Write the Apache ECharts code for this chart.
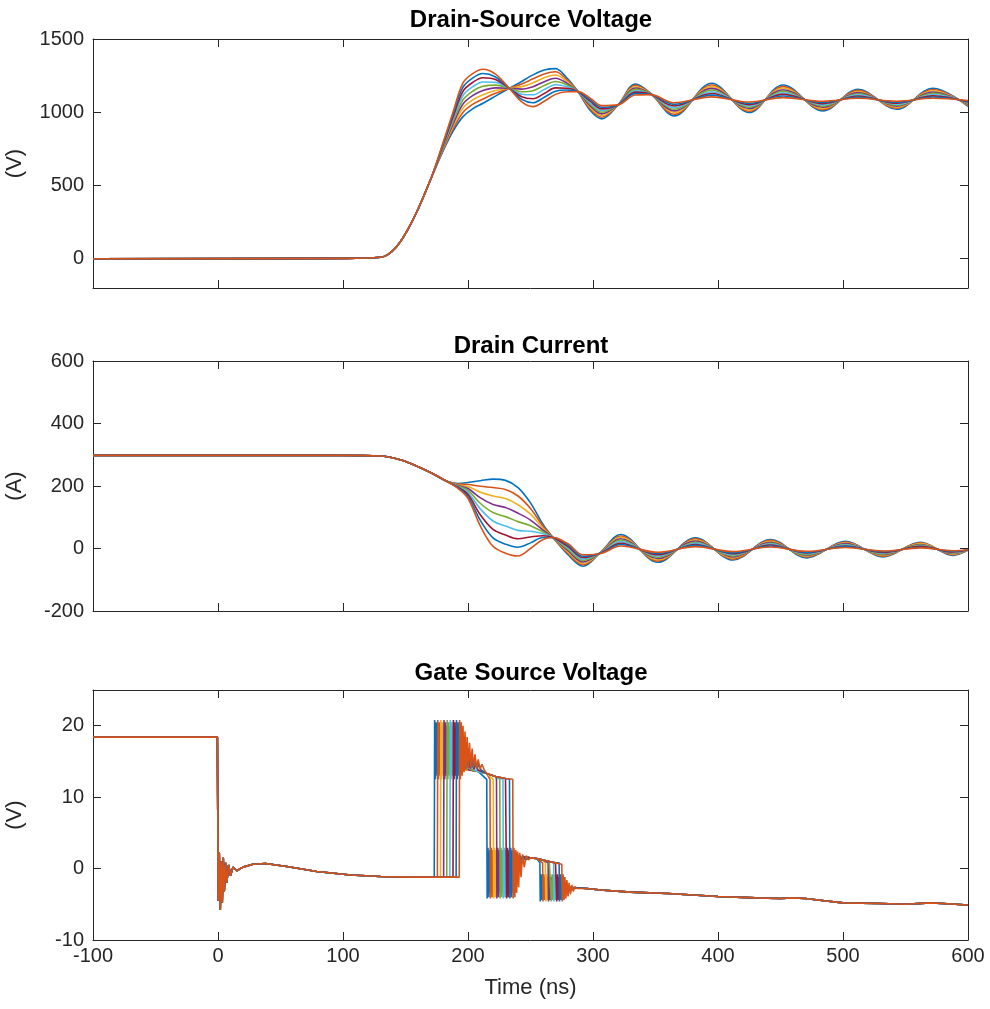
<!DOCTYPE html>
<html>
<head>
<meta charset="utf-8">
<script src="https://cdn.jsdelivr.net/npm/echarts@6/dist/echarts.min.js"></script>
<style>
html, body { margin: 0; padding: 0; background: #fff; }
#chart { width: 990px; height: 1009px; }
</style>
</head>
<body>
<div id="chart"></div>
<script>
// MATLAB default line colours, 9 curves (order repeats after 7)
var lineColors = ['#0072BD', '#D95319', '#EDB120', '#7E2F8E', '#77AC30', '#4DBEEE', '#A2142F', '#0072BD', '#D95319'];

var xTicks = [-100, 0, 100, 200, 300, 400, 500, 600];
var vdsTicks = [0, 500, 1000, 1500];
var idTicks = [-200, 0, 200, 400, 600];
var vgsTicks = [-10, 0, 10, 20];

// ---- Drain-Source Voltage (V) ----
var timeVds = [-100, 100, 130, 143, 156, 170, 180, 188, 196, 204, 212, 222, 233, 243, 252, 261, 270, 279, 288, 298, 307, 320, 334, 346, 365, 395, 425, 452, 484, 512, 543, 572, 600];
var vdsCurves = [
  [0, 2, 10, 84, 266, 539, 735, 870, 970, 1025, 1061, 1110, 1164, 1210, 1255, 1288, 1298, 1235, 1141, 1010, 955, 1050, 1193, 1130, 975, 1198, 998, 1186, 1009, 1157, 1020, 1164, 1040],
  [0, 2, 10, 84, 266, 539, 742, 886, 999, 1055, 1090, 1129, 1164, 1193, 1228, 1261, 1276, 1223, 1141, 1021, 966, 1050, 1184, 1129, 986, 1186, 1007, 1175, 1017, 1149, 1027, 1155, 1045],
  [0, 2, 10, 84, 266, 539, 749, 903, 1028, 1085, 1119, 1148, 1164, 1175, 1201, 1235, 1254, 1211, 1141, 1031, 978, 1050, 1174, 1128, 998, 1175, 1016, 1165, 1026, 1142, 1034, 1147, 1050],
  [0, 2, 10, 84, 266, 539, 756, 919, 1056, 1115, 1148, 1166, 1164, 1158, 1174, 1208, 1232, 1199, 1141, 1042, 989, 1050, 1165, 1126, 1009, 1163, 1025, 1154, 1034, 1134, 1041, 1138, 1055],
  [0, 2, 10, 84, 266, 539, 763, 935, 1085, 1145, 1177, 1185, 1164, 1140, 1147, 1182, 1210, 1188, 1141, 1053, 1000, 1050, 1156, 1125, 1020, 1152, 1034, 1143, 1042, 1126, 1048, 1130, 1060],
  [0, 2, 10, 84, 266, 539, 769, 951, 1114, 1175, 1206, 1204, 1164, 1123, 1119, 1155, 1188, 1176, 1141, 1063, 1011, 1050, 1146, 1124, 1031, 1140, 1043, 1132, 1050, 1119, 1054, 1121, 1065],
  [0, 2, 10, 84, 266, 539, 776, 968, 1143, 1205, 1235, 1223, 1164, 1105, 1092, 1128, 1166, 1164, 1141, 1074, 1023, 1050, 1137, 1123, 1043, 1128, 1052, 1122, 1059, 1111, 1061, 1112, 1070],
  [0, 2, 10, 84, 266, 539, 783, 984, 1171, 1235, 1264, 1241, 1164, 1088, 1065, 1102, 1144, 1152, 1141, 1084, 1034, 1050, 1127, 1121, 1054, 1117, 1061, 1111, 1067, 1103, 1068, 1104, 1075],
  [0, 2, 10, 84, 266, 539, 790, 1000, 1200, 1265, 1293, 1260, 1164, 1070, 1038, 1075, 1122, 1140, 1141, 1095, 1045, 1050, 1118, 1120, 1065, 1105, 1070, 1100, 1075, 1095, 1075, 1095, 1080]
];

// ---- Drain Current (A) ----
var timeId = [-100, 100, 130, 145, 156, 170, 183, 192, 200, 210, 220, 230, 240, 250, 260, 268, 280, 292, 307, 322, 352, 382, 412, 442, 471, 502, 532, 562, 588, 600];
var idCurves = [
  [298, 298, 296, 285, 269, 243, 215, 208, 211, 217, 222, 218, 195, 146, 77, 35, -20, -57, -8, 45, -44, 34, -37, 29, -30, 23, -27, 20, -22, -5],
  [298, 298, 296, 285, 269, 243, 215, 206, 205, 199, 195, 189, 168, 128, 71, 35, -16, -52, -9, 40, -40, 31, -34, 26, -27, 21, -25, 18, -20, -5],
  [298, 298, 296, 285, 269, 243, 215, 204, 198, 180, 168, 160, 140, 110, 65, 35, -11, -48, -10, 36, -36, 27, -30, 23, -25, 18, -22, 16, -18, -5],
  [298, 298, 296, 285, 269, 243, 215, 202, 192, 162, 141, 131, 113, 91, 59, 35, -7, -43, -11, 31, -32, 24, -27, 20, -22, 16, -20, 13, -16, -5],
  [298, 298, 296, 285, 269, 243, 215, 200, 186, 144, 115, 102, 86, 73, 53, 35, -3, -38, -12, 27, -28, 20, -24, 17, -20, 13, -18, 11, -15, -5],
  [298, 298, 296, 285, 269, 243, 215, 198, 179, 126, 88, 72, 58, 55, 47, 35, 2, -34, -12, 22, -24, 17, -20, 14, -17, 11, -15, 9, -13, -4],
  [298, 298, 296, 285, 269, 243, 215, 196, 173, 107, 61, 43, 31, 37, 41, 35, 6, -29, -13, 17, -20, 13, -17, 11, -14, 8, -13, 7, -11, -4],
  [298, 298, 296, 285, 269, 243, 215, 194, 166, 89, 34, 14, 4, 18, 35, 35, 11, -25, -14, 13, -16, 10, -14, 8, -12, 6, -10, 4, -9, -4],
  [298, 298, 296, 285, 269, 243, 215, 192, 160, 71, 7, -15, -24, 0, 29, 35, 15, -20, -15, 8, -12, 6, -10, 5, -9, 3, -8, 2, -7, -4]
];

// ---- Gate Source Voltage (V) ----
// common part before switching
var gsHeadT = [-100, -0.5, 0.2, 1.0, 1.8, 2.6, 3.4, 4.2, 5.0, 6.0, 7.0, 8.5, 10, 12, 15, 20, 28, 38, 55, 79, 106, 130, 150, 170];
var gsHeadV = [18.4, 18.4, -4.5, 2.2, -5.8, 1.0, -4.8, 1.5, -3.2, 0.8, -2.0, 0.5, -1.0, 0.2, -0.3, 0.2, 0.6, 0.7, 0.3, -0.4, -0.9, -1.1, -1.2, -1.2];
// edge times of each curve (ns)
var gsRiseT = [173, 175.5, 178, 180.5, 183, 185.5, 188, 190.5, 193];
var gsFall1T = [215, 217.6, 220.2, 222.8, 225.4, 228, 230.6, 233.2, 235.8];
var gsFall2T = [257.5, 259.7, 261.9, 264.1, 266.3, 268.5, 270.7, 272.9, 275.1];
// ringing after each edge: time after the edge (ns) and value
var riseOff = [0, 0.3, 0.9, 1.6, 2.3, 3.0, 3.8, 4.6, 5.4, 6.3, 7.2, 8.2, 9.2, 10.3, 11.4, 12.6, 13.8, 15.2, 16.6, 18.2, 20];
var riseVal = [-1.2, 20.8, 12.5, 20.5, 13.0, 20.0, 13.5, 19.2, 13.8, 18.4, 14.0, 17.6, 14.2, 16.8, 14.2, 16.0, 14.0, 15.3, 13.9, 14.6, 13.8];
var fall1Off = [0, 0.3, 1.0, 1.7, 2.4, 3.1, 3.9, 4.7, 5.6, 6.6, 7.8, 9.2, 10.8, 12.5];
var fall1Val = [12.5, -4.2, 2.9, -4.0, 2.6, -3.4, 2.4, -2.6, 2.2, -1.2, 2.0, 0.2, 1.8, 1.2];
var fall2Off = [0, 0.3, 1.0, 1.7, 2.4, 3.2, 4.0, 4.9, 5.8, 6.8, 7.9, 9.1, 10.5, 12];
var fall2Val = [0.8, -4.6, -0.8, -4.4, -1.2, -4.2, -1.6, -3.9, -2.0, -3.6, -2.3, -3.2, -2.5, -2.8];
// common levels between edges
var gsPlatT = [196, 202, 208, 215, 222, 230, 237];
var gsPlatV = [14.0, 13.8, 13.6, 13.3, 12.9, 12.6, 12.4];
var gsMidT = [245, 250, 255, 260, 265, 270, 275, 278];
var gsMidV = [1.6, 1.5, 1.4, 1.2, 1.0, 0.8, 0.6, 0.5];
var gsTailT = [288, 295, 306, 330, 360, 400, 430, 450, 460, 470, 485, 500, 530, 550, 570, 580, 590, 600];
var gsTailV = [-2.7, -2.8, -3.0, -3.3, -3.5, -3.9, -4.1, -4.2, -4.1, -4.2, -4.5, -4.8, -4.9, -5.0, -4.8, -4.9, -5.0, -5.1];

function pairs(t, v) {
  return t.map(function (x, i) { return [x, v[i]]; });
}

function gateCurve(k) {
  var pts = pairs(gsHeadT, gsHeadV);
  var r = gsRiseT[k], f1 = gsFall1T[k], f2 = gsFall2T[k];
  riseOff.forEach(function (o, i) { pts.push([r + o, riseVal[i]]); });
  var rEnd = r + riseOff[riseOff.length - 1];
  gsPlatT.forEach(function (t, i) { if (t > rEnd && t < f1) pts.push([t, gsPlatV[i]]); });
  fall1Off.forEach(function (o, i) { pts.push([f1 + o, fall1Val[i]]); });
  var f1End = f1 + fall1Off[fall1Off.length - 1];
  gsMidT.forEach(function (t, i) { if (t > f1End && t < f2) pts.push([t, gsMidV[i]]); });
  fall2Off.forEach(function (o, i) { pts.push([f2 + o, fall2Val[i]]); });
  var f2End = f2 + fall2Off[fall2Off.length - 1];
  gsTailT.forEach(function (t, i) { if (t > f2End) pts.push([t, gsTailV[i]]); });
  return pts;
}

var fontFam = '"Liberation Sans", Arial, Helvetica, sans-serif';
var axisCol = '#262626';
var plainNum = function (v) { return String(v); };

var grids = [
  { left: 93, right: 22, top: 39, height: 249, outerBoundsMode: 'none', containLabel: false },
  { left: 93, right: 22, top: 361, height: 250, outerBoundsMode: 'none', containLabel: false },
  { left: 93, right: 22, top: 690, height: 250, outerBoundsMode: 'none', containLabel: false }
];

var xAxes = [], yAxes = [];
var yRanges = [[-200, 1500, vdsTicks, '(V)'], [-200, 600, idTicks, '(A)'], [-10, 25, vgsTicks, '(V)']];

for (var g = 0; g < 3; g++) {
  ['bottom', 'top'].forEach(function (pos) {
    var main = (pos === 'bottom');
    var ax = {
      type: 'value', gridIndex: g, position: pos, min: -100, max: 600,
      axisLine: { show: true, onZero: false, lineStyle: { color: axisCol, width: 1 } },
      axisTick: { show: true, inside: true, length: 8, customValues: xTicks, lineStyle: { color: axisCol } },
      axisLabel: { show: main && g === 2, customValues: xTicks, formatter: plainNum, color: axisCol, fontSize: 20, fontFamily: fontFam, margin: 6 },
      splitLine: { show: false }
    };
    if (main && g === 2) {
      ax.name = 'Time (ns)';
      ax.nameLocation = 'middle';
      ax.nameGap = 37;
      ax.nameTextStyle = { color: axisCol, fontSize: 22, fontFamily: fontFam };
    }
    xAxes.push(ax);
  });
  ['left', 'right'].forEach(function (pos) {
    var main = (pos === 'left');
    var yr = yRanges[g];
    var ay = {
      type: 'value', gridIndex: g, position: pos, min: yr[0], max: yr[1],
      axisLine: { show: true, onZero: false, lineStyle: { color: axisCol, width: 1 } },
      axisTick: { show: true, inside: true, length: 8, customValues: yr[2], lineStyle: { color: axisCol } },
      axisLabel: { show: main, customValues: yr[2], formatter: plainNum, color: axisCol, fontSize: 20, fontFamily: fontFam, margin: 9 },
      splitLine: { show: false }
    };
    if (main) {
      ay.name = yr[3];
      ay.nameLocation = 'middle';
      ay.nameRotate = 90;
      ay.nameGap = 67;
      ay.nameTextStyle = { color: axisCol, fontSize: 22, fontFamily: fontFam };
    }
    yAxes.push(ay);
  });
}

var series = [];
function addLine(g, data, k, smooth) {
  series.push({
    type: 'line', xAxisIndex: g * 2, yAxisIndex: g * 2,
    data: data, showSymbol: false, symbol: 'none', smooth: smooth,
    lineStyle: { width: 1.6, color: lineColors[k] },
    itemStyle: { color: lineColors[k] },
    silent: true
  });
}
for (var k = 0; k < 9; k++) {
  addLine(0, pairs(timeVds, vdsCurves[k]), k, 0.35);
}
for (var k = 0; k < 9; k++) {
  addLine(1, pairs(timeId, idCurves[k]), k, 0.35);
}
for (var k = 0; k < 9; k++) {
  addLine(2, gateCurve(k), k, false);
}

var titleStyle = { color: '#000', fontSize: 24, fontWeight: 'bold', fontFamily: fontFam };
var option = {
  backgroundColor: '#fff',
  animation: false,
  title: [
    { text: 'Drain-Source Voltage', left: 531, top: 8, textAlign: 'center', padding: 0, textStyle: titleStyle },
    { text: 'Drain Current', left: 531, top: 334, textAlign: 'center', padding: 0, textStyle: titleStyle },
    { text: 'Gate Source Voltage', left: 531, top: 661, textAlign: 'center', padding: 0, textStyle: titleStyle }
  ],
  grid: grids,
  xAxis: xAxes,
  yAxis: yAxes,
  series: series
};

var chart = echarts.init(document.getElementById('chart'));
chart.setOption(option);
</script>
</body>
</html>
